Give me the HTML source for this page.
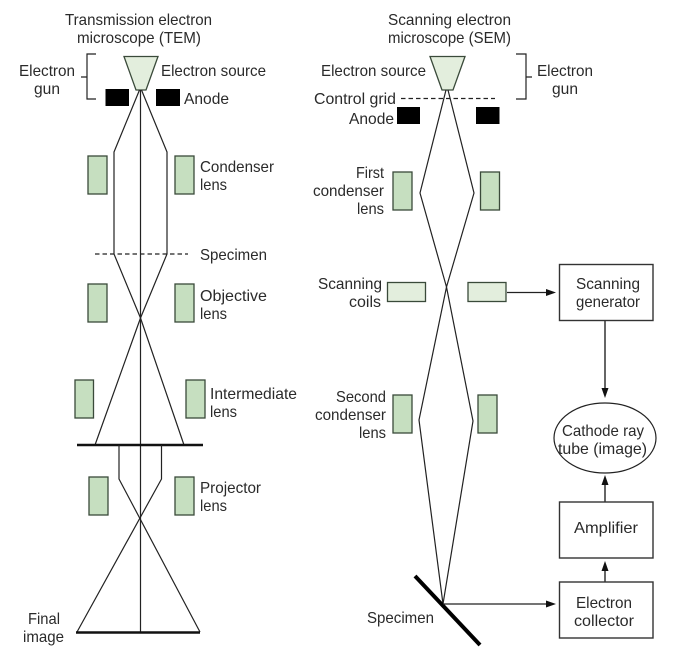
<!DOCTYPE html>
<html>
<head>
<meta charset="utf-8">
<style>
html,body{margin:0;padding:0;background:#fff}
svg{display:block}
text{font-family:"Liberation Sans",sans-serif;font-size:16px;fill:#2a2a2a}
.l{fill:none;stroke:#222;stroke-width:1.2}
.b{fill:#fff;stroke:#333;stroke-width:1.4}
.g{fill:#c6dfc0;stroke:#3a4a3a;stroke-width:1.3}
.p{fill:#e3eedd;stroke:#3a4a3a;stroke-width:1.3}
.h{fill:#000}
</style>
</head>
<body>
<svg width="676" height="656" viewBox="0 0 676 656" xmlns="http://www.w3.org/2000/svg">
<!-- TEM -->
<g>
<polygon class="p" points="124,56.5 158,56.5 146,90 136,90" stroke-width="1"/>
<path class="l" d="M96,54H87V99H96M81,77H87"/>
<rect class="h" x="105.500" y="89" width="23.500" height="17"/>
<rect class="h" x="156" y="89" width="24" height="17"/>
<path class="l" d="M140.500,90V632"/>
<path class="l" d="M139.500,90L114,152V254L140.500,318L184,445"/>
<path class="l" d="M141.500,90L167,152V254L140.500,318L95,445"/>
<rect class="g" x="88" y="156" width="19" height="38"/>
<rect class="g" x="175" y="156" width="19" height="38"/>
<path class="l" d="M95,254H188" stroke-dasharray="4.500 3"/>
<rect class="g" x="88" y="284" width="19" height="38"/>
<rect class="g" x="175" y="284" width="19" height="38"/>
<rect class="g" x="75" y="380" width="18.500" height="38"/>
<rect class="g" x="186" y="380" width="19" height="38"/>
<path d="M77,445H203" stroke="#111" stroke-width="2.500" fill="none"/>
<path class="l" d="M119,445V479L200,632"/>
<path class="l" d="M161.500,445V479L77,632"/>
<rect class="g" x="89" y="477" width="19" height="38"/>
<rect class="g" x="175" y="477" width="19" height="38"/>
<path d="M76,632.500H200" stroke="#111" stroke-width="2.500" fill="none"/>
</g>
<!-- SEM -->
<g>
<polygon class="p" points="430,56.500 465,56.500 453,90 442,90" stroke-width="1"/>
<path class="l" d="M516,54H526V99H516M526,77H532"/>
<path class="l" d="M401,98.500H495" stroke-dasharray="4.500 3"/>
<rect class="h" x="397" y="107" width="23" height="17"/>
<rect class="h" x="476" y="107" width="23.500" height="17"/>
<path class="l" d="M446,90L420,193L446.500,287L473,421L443,604"/>
<path class="l" d="M448,90L474,193L446.500,287L419,420L443,604"/>
<rect class="g" x="393" y="172" width="19" height="38"/>
<rect class="g" x="480.500" y="172" width="19" height="38"/>
<rect class="p" x="387.500" y="282.500" width="38" height="19"/>
<rect class="p" x="468" y="282.500" width="38" height="19"/>
<rect class="g" x="393" y="395" width="19" height="38"/>
<rect class="g" x="478" y="395" width="19" height="38"/>
<path d="M415,576L480,645" stroke="#000" stroke-width="4" fill="none"/>
<rect class="b" x="559.500" y="264.500" width="93.500" height="56"/>
<rect class="b" x="559.500" y="502" width="93.500" height="56"/>
<rect class="b" x="559.500" y="582" width="93.500" height="56"/>
<ellipse cx="605" cy="438" rx="51" ry="35" fill="#fff" stroke="#222" stroke-width="1.200"/>
<path class="l" d="M507,292.500H548"/>
<polygon points="556,292.500 546,289 546,296" fill="#111"/>
<path class="l" d="M443,604H548"/>
<polygon points="556,604 546,600.500 546,607.500" fill="#111"/>
<path d="M605,320V390" stroke="#333" stroke-width="1.500" fill="none"/>
<polygon points="605,398 601.500,388 608.500,388" fill="#111"/>
<path d="M605,502V482" stroke="#333" stroke-width="1.500" fill="none"/>
<polygon points="605,475 601.500,485 608.500,485" fill="#111"/>
<path d="M605,582V568" stroke="#333" stroke-width="1.500" fill="none"/>
<polygon points="605,561 601.500,571 608.500,571" fill="#111"/>
</g>
<!-- TEM labels -->
<text x="65" y="25" textLength="147" lengthAdjust="spacingAndGlyphs">Transmission electron</text>
<text x="77" y="43" textLength="124" lengthAdjust="spacingAndGlyphs">microscope (TEM)</text>
<text x="19" y="76" textLength="56" lengthAdjust="spacingAndGlyphs">Electron</text>
<text x="34" y="94" textLength="26" lengthAdjust="spacingAndGlyphs">gun</text>
<text x="161" y="76" textLength="105" lengthAdjust="spacingAndGlyphs">Electron source</text>
<text x="184" y="104" textLength="45" lengthAdjust="spacingAndGlyphs">Anode</text>
<text x="200" y="172" textLength="74" lengthAdjust="spacingAndGlyphs">Condenser</text>
<text x="200" y="190" textLength="27" lengthAdjust="spacingAndGlyphs">lens</text>
<text x="200" y="260" textLength="67" lengthAdjust="spacingAndGlyphs">Specimen</text>
<text x="200" y="301" textLength="67" lengthAdjust="spacingAndGlyphs">Objective</text>
<text x="200" y="319" textLength="27" lengthAdjust="spacingAndGlyphs">lens</text>
<text x="210" y="399" textLength="87" lengthAdjust="spacingAndGlyphs">Intermediate</text>
<text x="210" y="417" textLength="27" lengthAdjust="spacingAndGlyphs">lens</text>
<text x="200" y="493" textLength="61" lengthAdjust="spacingAndGlyphs">Projector</text>
<text x="200" y="511" textLength="27" lengthAdjust="spacingAndGlyphs">lens</text>
<text x="28" y="624" textLength="32" lengthAdjust="spacingAndGlyphs">Final</text>
<text x="23" y="642" textLength="41" lengthAdjust="spacingAndGlyphs">image</text>
<!-- SEM labels -->
<text x="388" y="25" textLength="123" lengthAdjust="spacingAndGlyphs">Scanning electron</text>
<text x="388" y="43" textLength="123" lengthAdjust="spacingAndGlyphs">microscope (SEM)</text>
<text x="321" y="76" textLength="105" lengthAdjust="spacingAndGlyphs">Electron source</text>
<text x="537" y="76" textLength="56" lengthAdjust="spacingAndGlyphs">Electron</text>
<text x="552" y="94" textLength="26" lengthAdjust="spacingAndGlyphs">gun</text>
<text x="314" y="104" textLength="82" lengthAdjust="spacingAndGlyphs">Control grid</text>
<text x="349" y="124" textLength="45" lengthAdjust="spacingAndGlyphs">Anode</text>
<text x="356" y="178" textLength="28" lengthAdjust="spacingAndGlyphs">First</text>
<text x="313" y="196" textLength="71" lengthAdjust="spacingAndGlyphs">condenser</text>
<text x="357" y="214" textLength="27" lengthAdjust="spacingAndGlyphs">lens</text>
<text x="318" y="289" textLength="64" lengthAdjust="spacingAndGlyphs">Scanning</text>
<text x="349" y="307" textLength="32" lengthAdjust="spacingAndGlyphs">coils</text>
<text x="336" y="402" textLength="50" lengthAdjust="spacingAndGlyphs">Second</text>
<text x="315" y="420" textLength="71" lengthAdjust="spacingAndGlyphs">condenser</text>
<text x="359" y="438" textLength="27" lengthAdjust="spacingAndGlyphs">lens</text>
<text x="367" y="623" textLength="67" lengthAdjust="spacingAndGlyphs">Specimen</text>
<text x="576" y="289" textLength="64" lengthAdjust="spacingAndGlyphs">Scanning</text>
<text x="576" y="307" textLength="64" lengthAdjust="spacingAndGlyphs">generator</text>
<text x="562" y="436" textLength="82" lengthAdjust="spacingAndGlyphs">Cathode ray</text>
<text x="558" y="454" textLength="89" lengthAdjust="spacingAndGlyphs">tube (image)</text>
<text x="574" y="533" textLength="64" lengthAdjust="spacingAndGlyphs">Amplifier</text>
<text x="576" y="608" textLength="56" lengthAdjust="spacingAndGlyphs">Electron</text>
<text x="574" y="626" textLength="60" lengthAdjust="spacingAndGlyphs">collector</text>
</svg>
</body>
</html>
